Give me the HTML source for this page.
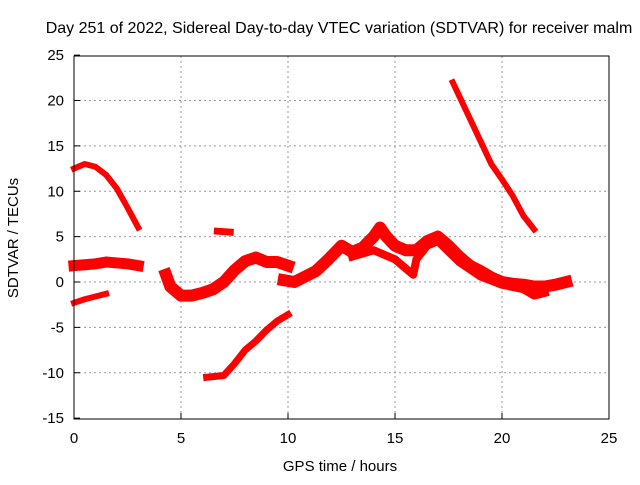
<!DOCTYPE html>
<html><head><meta charset="utf-8"><style>
body{margin:0;background:#fff}
svg text{font-family:"Liberation Sans",sans-serif;font-size:15px;fill:#000}
</style></head><body>
<svg width="640" height="480" xmlns="http://www.w3.org/2000/svg">
<rect width="640" height="480" fill="#fff"/>
<text x="339" y="33" text-anchor="middle" style="font-size:16px">Day 251 of 2022, Sidereal Day-to-day VTEC variation (SDTVAR) for receiver malm</text>
<text x="340" y="471" text-anchor="middle">GPS time / hours</text>
<text transform="translate(18,238) rotate(-90)" text-anchor="middle">SDTVAR / TECUs</text>
<g id="grid"></g><g id="ticks"></g><g id="marks"></g>
<rect x="74" y="56" width="535" height="363" fill="none" stroke="#000" stroke-width="1"/>
</svg>
<script>
const xTicks=[0,5,10,15,20,25];
const yTicks=[-15,-10,-5,0,5,10,15,20,25];
const trackA=[[0,12.5],[0.5,13],[1,12.7],[1.5,11.8],[2,10.3],[2.5,8.2],[3,6]];
const trackB=[[0,1.8],[1,2],[1.5,2.2],[2,2.1],[2.5,2],[3,1.8]];
const trackC=[[0,-2.3],[0.5,-1.9],[1,-1.6],[1.5,-1.3]];
const trackD=[[4.3,0.8],[4.5,-0.5],[5,-1.5],[5.5,-1.5],[6,-1.2],[6.5,-0.8],[7,0],[7.5,1.3],[8,2.3],[8.5,2.7],[9,2.2],[9.5,2.2],[10,1.8]];
const trackE=[[9.8,0.2],[10.3,0],[10.8,0.6],[11.3,1.2],[11.8,2.3],[12.3,3.5],[12.5,4],[13,3.3],[13.5,3.8],[14,5],[14.3,6],[14.6,5],[15,4],[15.5,3.5],[16,3.5],[16.5,4.5],[17,5],[17.5,4],[18,2.8],[18.5,1.8],[19,1.2],[19.5,0.5],[20,0],[20.5,-0.2],[21,-0.3],[21.5,-0.5],[22,-0.5],[22.5,-0.3],[23,0]];
const trackF=[[13,2.8],[14,3.5],[15,2.5],[15.5,1.5],[15.85,0.8],[16,2.5],[16.5,4],[17,4.5],[18,2.2],[19,0.6],[20,-0.3],[21,-0.8],[21.5,-1.5],[22,-1.2]];
const trackG=[[6.2,-10.5],[7,-10.3],[7.5,-9],[8,-7.5],[8.5,-6.5],[9,-5.3],[9.5,-4.3],[10,-3.6]];
const trackH=[[6.7,5.6],[7.3,5.5]];
const trackI=[[17.7,22],[18,20.5],[18.5,18],[19,15.5],[19.5,13],[20,11.3],[20.5,9.5],[21,7.3],[21.5,5.8]];
const tracks=[[trackA,6,'track-a'],[trackB,11,'track-b'],[trackC,6,'track-c'],[trackD,12,'track-d'],[trackE,12,'track-e'],[trackF,8,'track-f'],[trackG,7,'track-g'],[trackH,7,'track-h'],[trackI,6,'track-i']];
const X=t=>74+t*21.4, Y=v=>282-v*9.075;
const NS='http://www.w3.org/2000/svg';
const grid=document.getElementById('grid'),ticks=document.getElementById('ticks'),marks=document.getElementById('marks');
function mk(tag,attrs,parent){const e=document.createElementNS(NS,tag);for(const k in attrs)e.setAttribute(k,attrs[k]);parent.appendChild(e);return e;}
xTicks.forEach(t=>{
 if(t>0&&t<25){const g=mk('line',{x1:X(t),x2:X(t),y1:56,y2:419,stroke:'#999','stroke-dasharray':'2,3'},grid);
 
 }
 mk('line',{x1:X(t),x2:X(t),y1:419,y2:413,stroke:'#000'},ticks);
 const l=mk('text',{x:X(t),y:443,'text-anchor':'middle'},ticks);l.textContent=t;
 
 
});
yTicks.forEach(v=>{
 if(v>-15&&v<25){const g=mk('line',{x1:74,x2:609,y1:Y(v),y2:Y(v),stroke:'#999','stroke-dasharray':'2,3'},grid);
 
 }
 mk('line',{x1:74,x2:80,y1:Y(v),y2:Y(v),stroke:'#000'},ticks);
 const l=mk('text',{x:64,y:Y(v)+5,'text-anchor':'end'},ticks);l.textContent=v;
 
 
});
tracks.forEach(([pts,w,name])=>{
 const p=mk('polyline',{points:pts.map(q=>X(q[0])+','+Y(q[1])).join(' '),fill:'none',stroke:'#f00','stroke-width':w,'stroke-linejoin':'round','stroke-linecap':'square'},marks);
 
 
});
</script>
</body></html>
